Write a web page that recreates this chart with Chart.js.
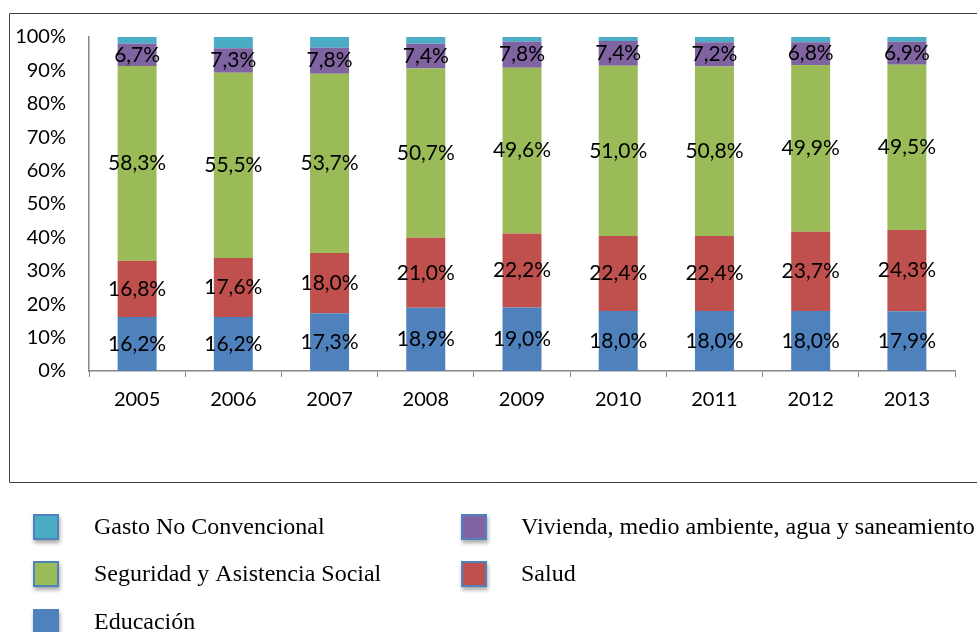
<!DOCTYPE html>
<html>
<head>
<meta charset="utf-8">
<script src="https://cdn.jsdelivr.net/npm/chart.js@4.4.1/dist/chart.umd.min.js"></script>
<style>
  html, body { margin: 0; padding: 0; background: #ffffff; }
  #wrap { width: 977px; height: 632px; position: relative; }
</style>
</head>
<body>
<div id="wrap"><canvas id="chart" width="977" height="632"></canvas></div>
<script>
// Years on the category axis
const years = ['2005', '2006', '2007', '2008', '2009', '2010', '2011', '2012', '2013'];

// Share of social spending by function (% of total)
const educacion = [16.2, 16.2, 17.3, 18.9, 19.0, 18.0, 18.0, 18.0, 17.9];
const salud = [16.8, 17.6, 18.0, 21.0, 22.2, 22.4, 22.4, 23.7, 24.3];
const seguridad = [58.3, 55.5, 53.7, 50.7, 49.6, 51.0, 50.8, 49.9, 49.5];
const vivienda = [6.7, 7.3, 7.8, 7.4, 7.8, 7.4, 7.2, 6.8, 6.9];
const gastoNoConv = [2.0, 3.4, 3.2, 2.0, 1.4, 1.2, 1.6, 1.6, 1.4];

// Percent ticks on the value axis
const yTicks = [0, 10, 20, 30, 40, 50, 60, 70, 80, 90, 100];

const seriesNames = [
  'Educación',
  'Salud',
  'Seguridad y Asistencia Social',
  'Vivienda, medio ambiente, agua y saneamiento',
  'Gasto No Convencional'
];
const seriesColors = ['#4F81BD', '#C0504D', '#9BBB59', '#8064A2', '#4BACC6'];
const seriesData = [educacion, salud, seguridad, vivienda, gastoNoConv];
const seriesLabelled = [true, true, true, true, false];

const uiFont = 'Lato, "Open Sans", sans-serif';
const serifFont = '"Liberation Serif", "DejaVu Serif", serif';

const fmt = v => v.toFixed(1).replace('.', ',') + '%';

// Value labels centred inside each stacked segment
const segmentLabels = {
  id: 'segmentLabels',
  afterDatasetsDraw(chart) {
    const ctx = chart.ctx;
    ctx.save();
    ctx.font = '21px ' + uiFont;
    ctx.fillStyle = '#000000';
    ctx.textAlign = 'center';
    ctx.textBaseline = 'middle';
    chart.data.datasets.forEach((ds, i) => {
      if (!seriesLabelled[i]) return;
      const meta = chart.getDatasetMeta(i);
      meta.data.forEach((bar, j) => {
        const y = (bar.y + bar.base) / 2;
        ctx.fillText(fmt(ds.data[j]), bar.x, y);
      });
    });
    ctx.restore();
  }
};

// Outer frame around the plot and the two-column legend below it
const frameAndLegend = {
  id: 'frameAndLegend',
  afterDraw(chart) {
    const ctx = chart.ctx;
    ctx.save();
    ctx.strokeStyle = '#404040';
    ctx.lineWidth = 1;
    ctx.beginPath();
    ctx.moveTo(977, 13.5);
    ctx.lineTo(9.5, 13.5);
    ctx.lineTo(9.5, 482.5);
    ctx.lineTo(977, 482.5);
    ctx.stroke();

    const items = chart.data.datasets.map((d, i) => ({ text: d.label, color: d.backgroundColor })).reverse();
    const colX = [33, 461];
    const textX = [94, 521];
    const rowY = [527, 574, 622];
    ctx.font = '24px ' + serifFont;
    ctx.textBaseline = 'middle';
    ctx.textAlign = 'left';
    items.forEach((it, k) => {
      const col = k % 2;
      const row = Math.floor(k / 2);
      const cx = colX[col];
      const cy = rowY[row];
      ctx.save();
      ctx.shadowColor = 'rgba(0,0,0,0.35)';
      ctx.shadowBlur = 4;
      ctx.shadowOffsetX = 1;
      ctx.shadowOffsetY = 3;
      ctx.fillStyle = it.color;
      ctx.fillRect(cx, cy - 13, 26, 26);
      ctx.restore();
      ctx.strokeStyle = '#4F81BD';
      ctx.lineWidth = 2;
      ctx.strokeRect(cx + 1, cy - 12, 24, 24);
      ctx.fillStyle = '#000000';
      ctx.fillText(it.text, textX[col], cy + 1);
    });
    ctx.restore();
  }
};

const datasets = seriesNames.map((name, i) => ({
  label: name,
  data: seriesData[i],
  backgroundColor: seriesColors[i],
  borderWidth: 0,
  categoryPercentage: 1.0,
  barPercentage: 0.405
}));

new Chart(document.getElementById('chart'), {
  type: 'bar',
  data: { labels: years, datasets },
  options: {
    responsive: false,
    animation: false,
    devicePixelRatio: 1,
    layout: { padding: { top: 37, right: 22, bottom: 0, left: 0 } },
    plugins: {
      legend: { display: false },
      tooltip: { enabled: false }
    },
    scales: {
      x: {
        stacked: true,
        grid: {
          display: true,
          drawOnChartArea: false,
          drawTicks: true,
          tickLength: 6,
          color: '#868686',
          offset: true
        },
        border: { display: true, color: '#868686', width: 1.5 },
        ticks: {
          font: { family: uiFont, size: 20 },
          color: '#000000',
          padding: 11,
          maxRotation: 0
        },
        afterFit(scale) { scale.height = 261; }
      },
      y: {
        stacked: true,
        min: 0,
        max: 100,
        afterBuildTicks(scale) { scale.ticks = yTicks.map(v => ({ value: v })); },
        grid: { display: false, drawTicks: false },
        border: { display: true, color: '#868686', width: 1.5 },
        ticks: {
          font: { family: uiFont, size: 20 },
          color: '#000000',
          padding: 23,
          callback: v => v + '%'
        },
        afterFit(scale) { scale.width = 89; }
      }
    }
  },
  plugins: [segmentLabels, frameAndLegend]
});
</script>
</body>
</html>
